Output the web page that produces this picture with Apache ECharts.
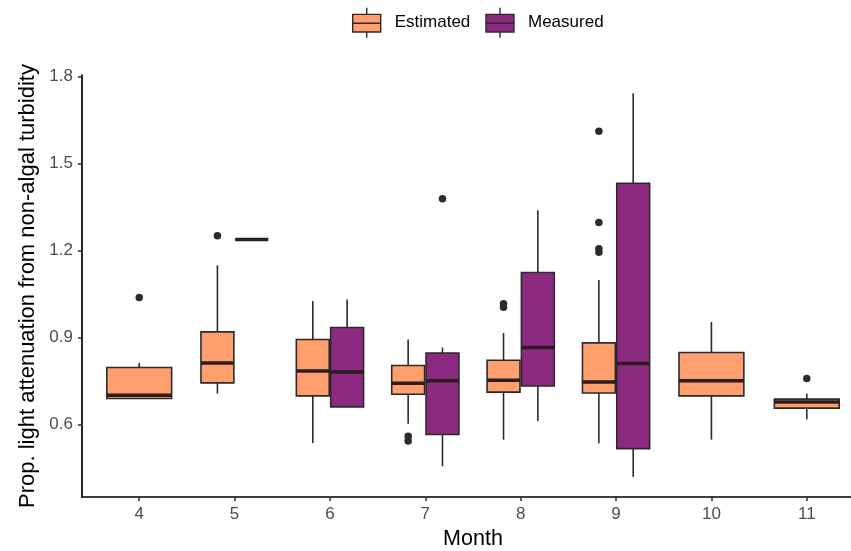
<!DOCTYPE html>
<html><head><meta charset="utf-8">
<script src="https://cdn.jsdelivr.net/npm/echarts@6/dist/echarts.min.js"></script>
<style>html,body{margin:0;padding:0;background:#fff}#c{width:851px;height:551px}</style>
</head><body><div id="c"></div>
<script>
// ---- data ----
const months = [4, 5, 6, 7, 8, 9, 10, 11];
// [lower whisker, Q1, median, Q3, upper whisker]; null = no data for that month
const estimated = [
  [0.689, 0.689, 0.700, 0.796, 0.812],
  [0.706, 0.743, 0.812, 0.919, 1.149],
  [0.535, 0.698, 0.784, 0.893, 1.026],
  [0.602, 0.704, 0.742, 0.803, 0.893],
  [0.547, 0.711, 0.752, 0.821, 0.915],
  [0.535, 0.708, 0.746, 0.881, 1.098],
  [0.547, 0.698, 0.750, 0.848, 0.953],
  [0.617, 0.656, 0.677, 0.687, 0.706]
];
const measured = [
  null,
  [1.238, 1.238, 1.238, 1.238, 1.238],
  [0.660, 0.660, 0.781, 0.934, 1.031],
  [0.455, 0.565, 0.750, 0.846, 0.865],
  [0.611, 0.732, 0.865, 1.124, 1.339],
  [0.418, 0.516, 0.810, 1.432, 1.743],
  null,
  null
];
const estimatedOutliers = [[4, 1.038], [5, 1.251], [7, 0.559], [7, 0.542], [8, 1.016], [8, 1.004],
  [9, 1.612], [9, 1.297], [9, 1.206], [9, 1.194], [11, 0.758]];
const measuredOutliers = [[7, 1.379]];
const yTicks = [0.6, 0.9, 1.2, 1.5, 1.8];
const groupNames = ['Estimated', 'Measured'];

// ---- styling / layout ----
const colors = ['#FE9F6D', '#8C2981'];
const FULL_W = 0.68, HALF_W = 0.345, DODGE = 0.18;
const FONT = '"Liberation Sans", Arial, sans-serif';
const stroke = '#2e2a2a';

function place(gi, i) {
  const both = estimated[i] && measured[i];
  if (!both) return { off: 0, w: FULL_W };
  return { off: gi === 0 ? -DODGE : DODGE, w: HALF_W };
}
function boxData(arr, gi) {
  const out = [];
  arr.forEach((s, i) => {
    if (!s) return;
    const p = place(gi, i);
    out.push([months[i] + p.off].concat(s).concat([p.w]));
  });
  return out;
}
function outlierData(arr, gi) {
  return arr.map(([m, v]) => {
    const p = place(gi, months.indexOf(m));
    return [m + p.off, v];
  });
}
function renderBox(color) {
  return function (params, api) {
    const x = api.value(0);
    const pLo = api.coord([x, api.value(1)]);
    const pQ1 = api.coord([x, api.value(2)]);
    const pMd = api.coord([x, api.value(3)]);
    const pQ3 = api.coord([x, api.value(4)]);
    const pHi = api.coord([x, api.value(5)]);
    const bw = api.size([api.value(6), 0])[0];
    const cx = pMd[0];
    return {
      type: 'group',
      children: [
        { type: 'line', shape: { x1: cx, y1: pHi[1], x2: cx, y2: pQ3[1] }, style: { stroke, lineWidth: 1.6 } },
        { type: 'line', shape: { x1: cx, y1: pQ1[1], x2: cx, y2: pLo[1] }, style: { stroke, lineWidth: 1.6 } },
        { type: 'rect', shape: { x: cx - bw / 2, y: pQ3[1], width: bw, height: pQ1[1] - pQ3[1] },
          style: { fill: color, stroke, lineWidth: 1.6 } },
        { type: 'line', shape: { x1: cx - bw / 2, y1: pMd[1], x2: cx + bw / 2, y2: pMd[1] },
          style: { stroke: '#2b1d1d', lineWidth: 3.5 } }
      ]
    };
  };
}

const legendIcon = 'path://M0,6.7L28,6.7L28,24.3L0,24.3Z M0,15.5L28,15.5 M14,0L14,6.7 M14,24.3L14,30';

const chart = echarts.init(document.getElementById('c'), null, { renderer: 'canvas' });
chart.setOption({
  animation: false,
  backgroundColor: '#ffffff',
  textStyle: { fontFamily: FONT },
  legend: {
    left: 347, top: 2,
    itemWidth: 28, itemHeight: 30, itemGap: 15,
    textStyle: { fontSize: 17, color: '#000', fontFamily: FONT, padding: [9, 0, 0, 9] },
    data: groupNames.map((n, i) => ({
      name: n, icon: legendIcon,
      itemStyle: { color: colors[i], borderColor: stroke, borderWidth: 1.4 }
    }))
  },
  grid: { left: 82, right: -13, top: 75, bottom: 54, outerBoundsMode: 'none', containLabel: false },
  xAxis: {
    type: 'value', min: 3.4, max: 11.6,
    name: 'Month', nameLocation: 'middle', nameGap: 31,
    nameTextStyle: { fontSize: 21.5, color: '#000', fontFamily: FONT },
    axisLine: { show: true, lineStyle: { color: '#000', width: 1.7 } },
    axisTick: { show: true, length: 4, lineStyle: { color: stroke, width: 1.5 }, customValues: months },
    axisLabel: { customValues: months, fontSize: 17, color: '#4D4D4D', margin: 9, fontFamily: FONT },
    splitLine: { show: false }
  },
  yAxis: {
    type: 'value', min: 0.349, max: 1.806,
    name: 'Prop. light attenuation from non-algal turbidity',
    nameLocation: 'middle', nameGap: 40, nameRotate: 90,
    nameTextStyle: { fontSize: 22, color: '#000', fontFamily: FONT },
    axisLine: { show: true, lineStyle: { color: '#000', width: 1.7 } },
    axisTick: { show: true, length: 4, lineStyle: { color: stroke, width: 1.5 }, customValues: yTicks },
    axisLabel: { customValues: yTicks, fontSize: 17, color: '#4D4D4D', margin: 9, fontFamily: FONT,
      formatter: v => v.toFixed(1) },
    splitLine: { show: false }
  },
  series: [
    { name: 'Estimated', type: 'custom', itemStyle: { color: colors[0] },
      renderItem: renderBox(colors[0]), encode: { x: 0, y: [1, 2, 3, 4, 5] }, data: boxData(estimated, 0), z: 2 },
    { name: 'Measured', type: 'custom', itemStyle: { color: colors[1] },
      renderItem: renderBox(colors[1]), encode: { x: 0, y: [1, 2, 3, 4, 5] }, data: boxData(measured, 1), z: 2 },
    { name: 'Estimated outliers', type: 'scatter', symbolSize: 7.5, itemStyle: { color: stroke, opacity: 1 },
      data: outlierData(estimatedOutliers, 0), z: 3 },
    { name: 'Measured outliers', type: 'scatter', symbolSize: 7.5, itemStyle: { color: stroke, opacity: 1 },
      data: outlierData(measuredOutliers, 1), z: 3 }
  ]
});
</script></body></html>
